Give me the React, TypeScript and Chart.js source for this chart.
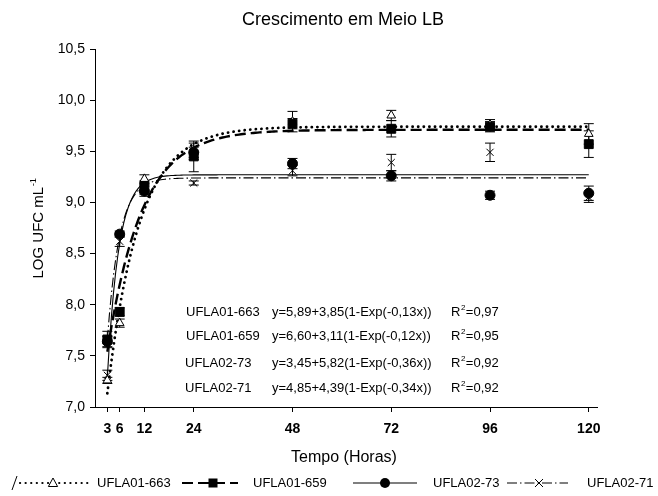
import React, { useEffect, useRef } from 'react';
import { Chart, registerables } from 'chart.js';

Chart.register(...registerables);

// Sampling times (hours)
const hours = [3, 6, 12, 24, 48, 72, 96, 120];
const strains = ['UFLA01-663', 'UFLA01-659', 'UFLA02-73', 'UFLA02-71'];

// Mean log counts per strain
const ufla01_663 = [7.26, 7.82, 9.23, 9.5, 9.79, 9.85, 9.76, 9.67];
const ufla01_659 = [7.66, 7.93, 9.16, 9.45, 9.77, 9.72, 9.74, 9.57];
const ufla02_73 = [7.64, 8.69, 9.11, 9.49, 9.38, 9.26, 9.07, 9.09];
const ufla02_71 = [7.31, 8.62, 9.13, 9.19, 9.31, 9.39, 9.49, 9.05];

// Standard errors
const ufla01_663Err = [0.03, 0.04, 0.04, 0.08, 0.1, 0.05, 0.05, 0.1];
const ufla01_659Err = [0.08, 0.04, 0.05, 0.15, 0.05, 0.08, 0.05, 0.13];
const ufla02_73Err = [0.05, 0.03, 0.05, 0.05, 0.05, 0.05, 0.04, 0.07];
const ufla02_71Err = [0.05, 0.05, 0.05, 0.02, 0.05, 0.08, 0.09, 0.05];

// Fitted model y = a + b(1 - exp(-c x))
const fitA = [5.89, 6.6, 3.45, 4.85];
const fitB = [3.85, 3.11, 5.82, 4.39];
const fitC = [0.13, 0.12, 0.36, 0.34];
const fitR2 = [0.97, 0.95, 0.92, 0.92];

const yTickMin = 7.0;
const yTickMax = 10.5;
const yTickStep = 0.5;

const FONT = "Arial, 'Liberation Sans', Helvetica, sans-serif";

const means = [ufla01_663, ufla01_659, ufla02_73, ufla02_71];
const errs = [ufla01_663Err, ufla01_659Err, ufla02_73Err, ufla02_71Err];

const comma = (v: number, d: number) => v.toFixed(d).replace('.', ',');

type LineStyle = { dash: number[]; width: number; cap: CanvasLineCap };
const lineStyles: LineStyle[] = [
  { dash: [0.1, 5.5], width: 2.8, cap: 'round' },
  { dash: [11, 5], width: 2.4, cap: 'butt' },
  { dash: [], width: 1.1, cap: 'butt' },
  { dash: [10, 3, 1.5, 3], width: 1.1, cap: 'butt' },
];

function drawMarker(ctx: CanvasRenderingContext2D, kind: number, x: number, y: number) {
  ctx.save();
  ctx.setLineDash([]);
  ctx.strokeStyle = '#000';
  ctx.fillStyle = '#000';
  ctx.lineWidth = 1;
  if (kind === 0) {
    ctx.beginPath();
    ctx.moveTo(x, y - 5);
    ctx.lineTo(x + 4.6, y + 3.5);
    ctx.lineTo(x - 4.6, y + 3.5);
    ctx.closePath();
    ctx.fillStyle = '#fff';
    ctx.fill();
    ctx.stroke();
  } else if (kind === 1) {
    ctx.fillRect(x - 4.5, y - 4.5, 9, 9);
  } else if (kind === 2) {
    ctx.beginPath();
    ctx.arc(x, y, 5, 0, Math.PI * 2);
    ctx.fill();
  } else {
    ctx.beginPath();
    ctx.moveTo(x - 4, y - 4);
    ctx.lineTo(x + 4, y + 4);
    ctx.moveTo(x + 4, y - 4);
    ctx.lineTo(x - 4, y + 4);
    ctx.stroke();
  }
  ctx.restore();
}

// Text with a superscript part; returns total width
function drawSup(ctx: CanvasRenderingContext2D, x: number, y: number, base: string, sup: string, size: number, tail = '') {
  ctx.font = `${size}px ${FONT}`;
  ctx.textAlign = 'left';
  ctx.textBaseline = 'middle';
  ctx.fillText(base, x, y);
  let w = ctx.measureText(base).width;
  ctx.font = `${size * 0.62}px ${FONT}`;
  ctx.fillText(sup, x + w + 0.5, y - size * 0.35);
  w += ctx.measureText(sup).width + 1;
  ctx.font = `${size}px ${FONT}`;
  if (tail) {
    ctx.fillText(tail, x + w, y);
    w += ctx.measureText(tail).width;
  }
  return w;
}

function supWidth(ctx: CanvasRenderingContext2D, base: string, sup: string, size: number) {
  ctx.font = `${size}px ${FONT}`;
  let w = ctx.measureText(base).width;
  ctx.font = `${size * 0.62}px ${FONT}`;
  w += ctx.measureText(sup).width + 1;
  return w;
}

const errorBars = {
  id: 'errorBars',
  beforeDatasetsDraw(chart: any) {
    const ctx = chart.ctx as CanvasRenderingContext2D;
    const xs = chart.scales.x;
    const ys = chart.scales.y;
    ctx.save();
    ctx.strokeStyle = '#000';
    ctx.lineWidth = 1;
    ctx.setLineDash([]);
    chart.data.datasets.forEach((ds: any) => {
      if (!ds.errors) return;
      ds.data.forEach((p: any, j: number) => {
        const e = ds.errors[j];
        const px = xs.getPixelForValue(p.x);
        const t = ys.getPixelForValue(p.y + e);
        const b = ys.getPixelForValue(p.y - e);
        ctx.beginPath();
        ctx.moveTo(px, t);
        ctx.lineTo(px, b);
        ctx.moveTo(px - 5, t);
        ctx.lineTo(px + 5, t);
        ctx.moveTo(px - 5, b);
        ctx.lineTo(px + 5, b);
        ctx.stroke();
      });
    });
    ctx.restore();
  },
};

const annotations = {
  id: 'annotations',
  afterDraw(chart: any) {
    const ctx = chart.ctx as CanvasRenderingContext2D;
    ctx.save();
    ctx.fillStyle = '#000';

    // Title
    ctx.font = `18px ${FONT}`;
    ctx.textAlign = 'center';
    ctx.textBaseline = 'middle';
    ctx.fillText('Crescimento em Meio LB', 343, 20);

    // X axis title
    ctx.font = `16px ${FONT}`;
    ctx.fillText('Tempo (Horas)', 344, 458);

    // Y axis title
    ctx.save();
    ctx.translate(39, 228);
    ctx.rotate(-Math.PI / 2);
    const tw = supWidth(ctx, 'LOG UFC mL', '-1', 15);
    drawSup(ctx, -tw / 2, 0, 'LOG UFC mL', '-1', 15);
    ctx.restore();

    // Fitted equations
    const eqY = [312, 336, 363, 388];
    const nameX = [186, 186, 185, 185];
    for (let i = 0; i < strains.length; i++) {
      ctx.font = `13px ${FONT}`;
      ctx.textAlign = 'left';
      ctx.textBaseline = 'middle';
      ctx.fillText(strains[i], nameX[i], eqY[i]);
      ctx.fillText(
        `y=${comma(fitA[i], 2)}+${comma(fitB[i], 2)}(1-Exp(-${comma(fitC[i], 2)}x))`,
        272,
        eqY[i]
      );
      drawSup(ctx, 451, eqY[i], 'R', '2', 13, `=${comma(fitR2[i], 2)}`);
    }

    // Legend
    const ly = 483;
    ctx.strokeStyle = '#000';
    ctx.lineWidth = 1;
    ctx.beginPath();
    ctx.moveTo(12, ly + 7);
    ctx.lineTo(17, ly - 7);
    ctx.stroke();
    const seg = [
      [20, 88, 53, 97],
      [182, 238, 213, 253],
      [353, 417, 385, 433],
      [507, 568, 539, 587],
    ];
    for (let i = 0; i < strains.length; i++) {
      const [x0, x1, mx, lx] = seg[i];
      const st = lineStyles[i];
      ctx.save();
      ctx.lineWidth = i < 2 ? st.width * 0.8 : st.width;
      ctx.lineCap = st.cap;
      ctx.setLineDash(st.dash);
      ctx.beginPath();
      ctx.moveTo(x0, ly);
      ctx.lineTo(x1, ly);
      ctx.stroke();
      ctx.restore();
      drawMarker(ctx, i, mx, ly);
      ctx.font = `13px ${FONT}`;
      ctx.textAlign = 'left';
      ctx.textBaseline = 'middle';
      ctx.fillStyle = '#000';
      ctx.fillText(strains[i], lx, ly);
    }
    ctx.restore();
  },
};

const pointStyles = ['triangle', 'rect', 'circle', 'crossRot'];
const pointRadii = [5, 6.3, 5, 5];
// open triangles sit underneath the filled markers
const pointOrder = [1.4, 1.3, 1.2, 1.1];

export default function App() {
  const ref = useRef<HTMLCanvasElement | null>(null);

  useEffect(() => {
    if (!ref.current) return;

    const curveDatasets = strains.map((name, i) => {
      const pts: { x: number; y: number }[] = [];
      for (let t = hours[0]; t <= hours[hours.length - 1] + 1e-9; t += 0.5) {
        pts.push({ x: t, y: fitA[i] + fitB[i] * (1 - Math.exp(-fitC[i] * t)) });
      }
      const st = lineStyles[i];
      return {
        label: `${name} fit`,
        data: pts,
        showLine: true,
        pointRadius: 0,
        borderColor: '#000',
        borderWidth: st.width,
        borderDash: st.dash,
        borderCapStyle: st.cap,
        tension: 0,
        order: 2,
      };
    });

    const pointDatasets = strains.map((name, i) => ({
      label: name,
      data: hours.map((h, j) => ({ x: h, y: means[i][j] })),
      errors: errs[i],
      showLine: false,
      pointStyle: pointStyles[i],
      pointRadius: pointRadii[i],
      pointBackgroundColor: i === 0 ? '#fff' : '#000',
      pointBorderColor: '#000',
      pointBorderWidth: 1,
      order: pointOrder[i],
    }));

    const chart = new Chart(ref.current, {
      type: 'scatter',
      data: { datasets: [...curveDatasets, ...pointDatasets] as any },
      options: {
        responsive: false,
        animation: false,
        events: [],
        layout: { padding: { top: 49, right: 61, left: 0, bottom: 0 } },
        plugins: { legend: { display: false }, title: { display: false }, tooltip: { enabled: false } },
        scales: {
          x: {
            type: 'linear',
            min: 0,
            max: 122,
            afterBuildTicks: (scale: any) => {
              scale.ticks = hours.map((v) => ({ value: v }));
            },
            afterFit: (scale: any) => {
              scale.height = 89;
            },
            grid: { drawOnChartArea: false, drawTicks: true, tickLength: 5, color: '#000' },
            border: { display: true, color: '#000', width: 1 },
            ticks: {
              color: '#000',
              autoSkip: false,
              maxRotation: 0,
              padding: 9,
              font: { family: FONT, size: 14, weight: 'bold' },
              callback: (v: any) => String(v),
            },
          },
          y: {
            type: 'linear',
            min: yTickMin,
            max: yTickMax,
            afterFit: (scale: any) => {
              scale.width = 95;
            },
            grid: { drawOnChartArea: false, drawTicks: true, tickLength: 5, color: '#000' },
            border: { display: true, color: '#000', width: 1 },
            ticks: {
              stepSize: yTickStep,
              color: '#000',
              padding: 5,
              font: { family: FONT, size: 14 },
              callback: (v: any) => comma(Number(v), 1),
            },
          },
        },
      } as any,
      plugins: [errorBars, annotations],
    });

    return () => chart.destroy();
  }, []);

  return (
    <div style={{ position: 'fixed', left: 0, top: 0, width: 658, height: 496, background: '#fff' }}>
      <canvas ref={ref} width={658} height={496} style={{ display: 'block', width: 658, height: 496 }} />
    </div>
  );
}
